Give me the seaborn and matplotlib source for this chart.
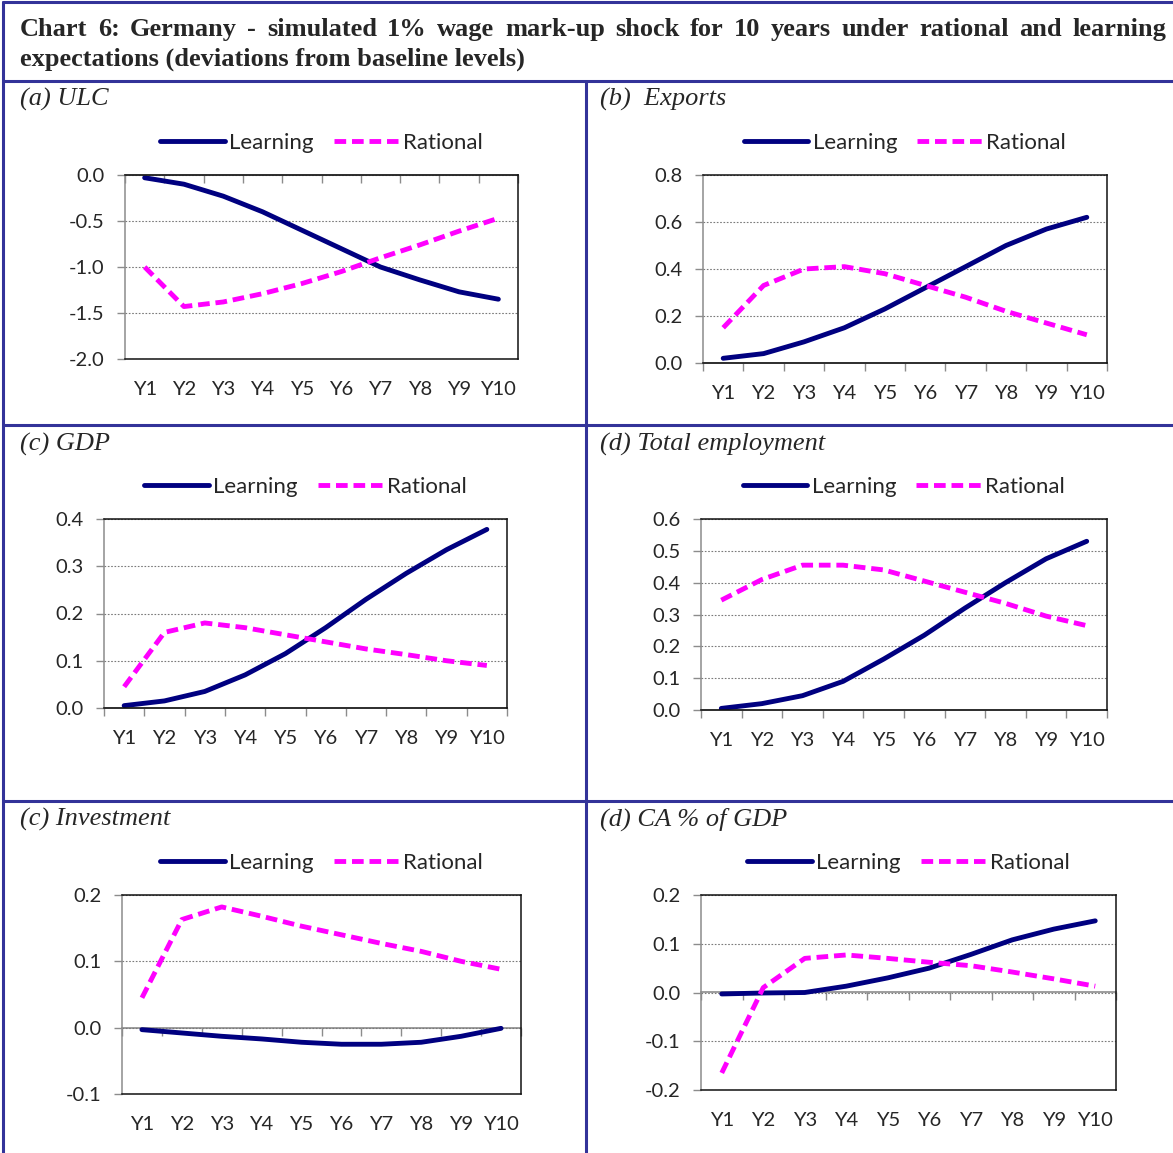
import numpy as np
import pandas as pd
import matplotlib
matplotlib.use("Agg")
import matplotlib.pyplot as plt
from matplotlib.lines import Line2D
from matplotlib.ticker import FormatStrFormatter
import seaborn as sns

W, H = 1173, 1153

# --- data ---
years = ["Y1", "Y2", "Y3", "Y4", "Y5", "Y6", "Y7", "Y8", "Y9", "Y10"]
series_names = ["Learning", "Rational"]

ulc_learning = [-0.03, -0.10, -0.23, -0.40, -0.60, -0.80, -1.00, -1.14, -1.27, -1.35]
ulc_rational = [-1.00, -1.43, -1.38, -1.29, -1.18, -1.05, -0.90, -0.76, -0.61, -0.47]

exports_learning = [0.02, 0.04, 0.09, 0.15, 0.23, 0.32, 0.41, 0.50, 0.57, 0.62]
exports_rational = [0.15, 0.33, 0.40, 0.41, 0.38, 0.33, 0.28, 0.22, 0.17, 0.12]

gdp_learning = [0.005, 0.015, 0.035, 0.07, 0.115, 0.17, 0.23, 0.285, 0.335, 0.378]
gdp_rational = [0.045, 0.16, 0.18, 0.17, 0.155, 0.14, 0.125, 0.113, 0.10, 0.09]

empl_learning = [0.005, 0.02, 0.045, 0.09, 0.16, 0.235, 0.32, 0.40, 0.475, 0.53]
empl_rational = [0.345, 0.41, 0.455, 0.455, 0.44, 0.405, 0.37, 0.335, 0.295, 0.265]

inv_learning = [-0.003, -0.008, -0.013, -0.017, -0.022, -0.025, -0.025, -0.022, -0.013, -0.001]
inv_rational = [0.045, 0.163, 0.182, 0.168, 0.153, 0.14, 0.127, 0.115, 0.10, 0.088]

ca_learning = [-0.003, -0.001, 0.0, 0.013, 0.03, 0.05, 0.078, 0.108, 0.13, 0.147]
ca_rational = [-0.165, 0.01, 0.07, 0.077, 0.07, 0.062, 0.055, 0.042, 0.028, 0.013]

panel_titles = ["(a) ULC", "(b)  Exports", "(c) GDP", "(d) Total employment",
                "(c) Investment", "(d) CA % of GDP"]
chart_title_1 = "Chart 6: Germany - simulated 1% wage mark-up shock for 10 years under rational and learning"
chart_title_2 = "expectations (deviations from baseline levels)"

# --- layout (pixels): plot box, y range, y step, panel label spot ---
panels = [
    (panel_titles[0], ulc_learning, ulc_rational, (125, 175, 518, 359), (-2.0, 0.0), 0.5, (20, 106)),
    (panel_titles[1], exports_learning, exports_rational, (703, 175, 1107, 363), (0.0, 0.8), 0.2, (600, 106)),
    (panel_titles[2], gdp_learning, gdp_rational, (104, 519, 507, 708), (0.0, 0.4), 0.1, (20, 451)),
    (panel_titles[3], empl_learning, empl_rational, (701, 519, 1107, 710), (0.0, 0.6), 0.1, (600, 451)),
    (panel_titles[4], inv_learning, inv_rational, (122, 895, 521, 1094), (-0.1, 0.2), 0.1, (20, 826)),
    (panel_titles[5], ca_learning, ca_rational, (701, 895, 1116, 1090), (-0.2, 0.2), 0.1, (600, 826)),
]

NAVY = "#000080"
MAGENTA = "#FF00FF"
BORDER = "#333399"
AXGRAY = "#8c8c8c"
TXT = "#262626"

sns.set_style("white")
plt.rcParams["font.family"] = ["Lato", "DejaVu Sans"]

fig = plt.figure(figsize=(W / 100, H / 100), dpi=100)


def px_axes(left, top, right, bottom):
    return fig.add_axes([left / W, 1 - bottom / H, (right - left) / W, (bottom - top) / H])


def px_line(x0, y0, x1, y1):
    fig.add_artist(Line2D([x0 / W, x1 / W], [1 - y0 / H, 1 - y1 / H],
                          transform=fig.transFigure, color=BORDER, lw=2.2))


# frame lines of the table
px_line(3, 2, W, 2)
px_line(3, 2, 3, H)
px_line(3, 81, W, 81)
px_line(586, 81, 586, H)
px_line(3, 425, W, 425)
px_line(3, 801, W, 801)

# title, justified on first line
renderer = fig.canvas.get_renderer()
words = chart_title_1.split()
objs = [fig.text(0, 1 - 36 / H, w, fontsize=19, fontweight="bold", family="Liberation Serif",
                 va="baseline", ha="left") for w in words]
widths = [t.get_window_extent(renderer).width for t in objs]
gap = (1166 - 20 - sum(widths)) / (len(words) - 1)
xpos = 20
for t, w in zip(objs, widths):
    t.set_x(xpos / W)
    xpos += w + gap
fig.text(20 / W, 1 - 66 / H, chart_title_2, fontsize=19, fontweight="bold",
         family="Liberation Serif", va="baseline", ha="left")

for title, learn, rat, box, (ymin, ymax), step, (tx, ty) in panels:
    fig.text(tx / W, 1 - ty / H, title, fontsize=19, style="italic",
             family="Liberation Serif", va="baseline", ha="left")

    ax = px_axes(*box)
    df = pd.DataFrame({
        "pos": list(range(len(years))) * 2,
        "value": learn + rat,
        "series": ["Learning"] * len(learn) + ["Rational"] * len(rat),
    })
    sns.lineplot(data=df, x="pos", y="value", hue="series", style="series",
                 hue_order=series_names, style_order=series_names,
                 palette={"Learning": NAVY, "Rational": MAGENTA},
                 dashes={"Learning": "", "Rational": (2.4, 1.2)},
                 linewidth=3.5, legend=False, ax=ax)
    for ln in ax.lines:
        ln.set_solid_capstyle("round")
        ln.set_solid_joinstyle("round")

    ax.set_xlim(-0.5, len(years) - 0.5)
    ax.set_ylim(ymin, ymax)
    ax.set_xticks(range(len(years)))
    ax.set_xticklabels(years)
    ax.set_yticks(np.arange(ymin, ymax + step / 2, step))
    ax.yaxis.set_major_formatter(FormatStrFormatter("%.1f"))
    ax.tick_params(axis="x", length=0, pad=16, labelsize=14.5, labelcolor=TXT)
    ax.tick_params(axis="y", left=True, length=6, width=1, color=AXGRAY, direction="out",
                   pad=9, labelsize=14.5, labelcolor=TXT)
    ax.set_xlabel("")
    ax.set_ylabel("")
    ax.yaxis.grid(True, color="#7a7a7a", linestyle=(0, (1.5, 1.5)), linewidth=0.8)
    ax.xaxis.grid(False)
    ax.set_axisbelow(True)

    for side in ["top", "right", "bottom"]:
        ax.spines[side].set_color("#111111")
        ax.spines[side].set_linewidth(1.1)
    ax.spines["left"].set_color(AXGRAY)
    ax.spines["left"].set_linewidth(1.1)

    # category axis crossing at zero, ticks between categories
    frac = (0 - ymin) / (ymax - ymin)
    sec = ax.secondary_xaxis(frac)
    sec.set_xticks(np.arange(-0.5, len(years), 1.0))
    sec.set_xticklabels([])
    sec.tick_params(axis="x", length=6, width=1, color=AXGRAY,
                    direction="in" if frac >= 0.5 else "out")
    for side in ["top", "bottom"]:
        sec.spines[side].set_color(AXGRAY)
        sec.spines[side].set_linewidth(1.2)

    h_px = box[3] - box[1]
    ax.legend(handles=ax.lines[:2], labels=series_names, loc="center",
              bbox_to_anchor=(0.5, 1 + 32 / h_px), ncol=2, frameon=False,
              fontsize=16, handlelength=2.9, handletextpad=0.2, columnspacing=0.9,
              labelcolor=TXT)

fig.savefig("out.png", dpi=100)
